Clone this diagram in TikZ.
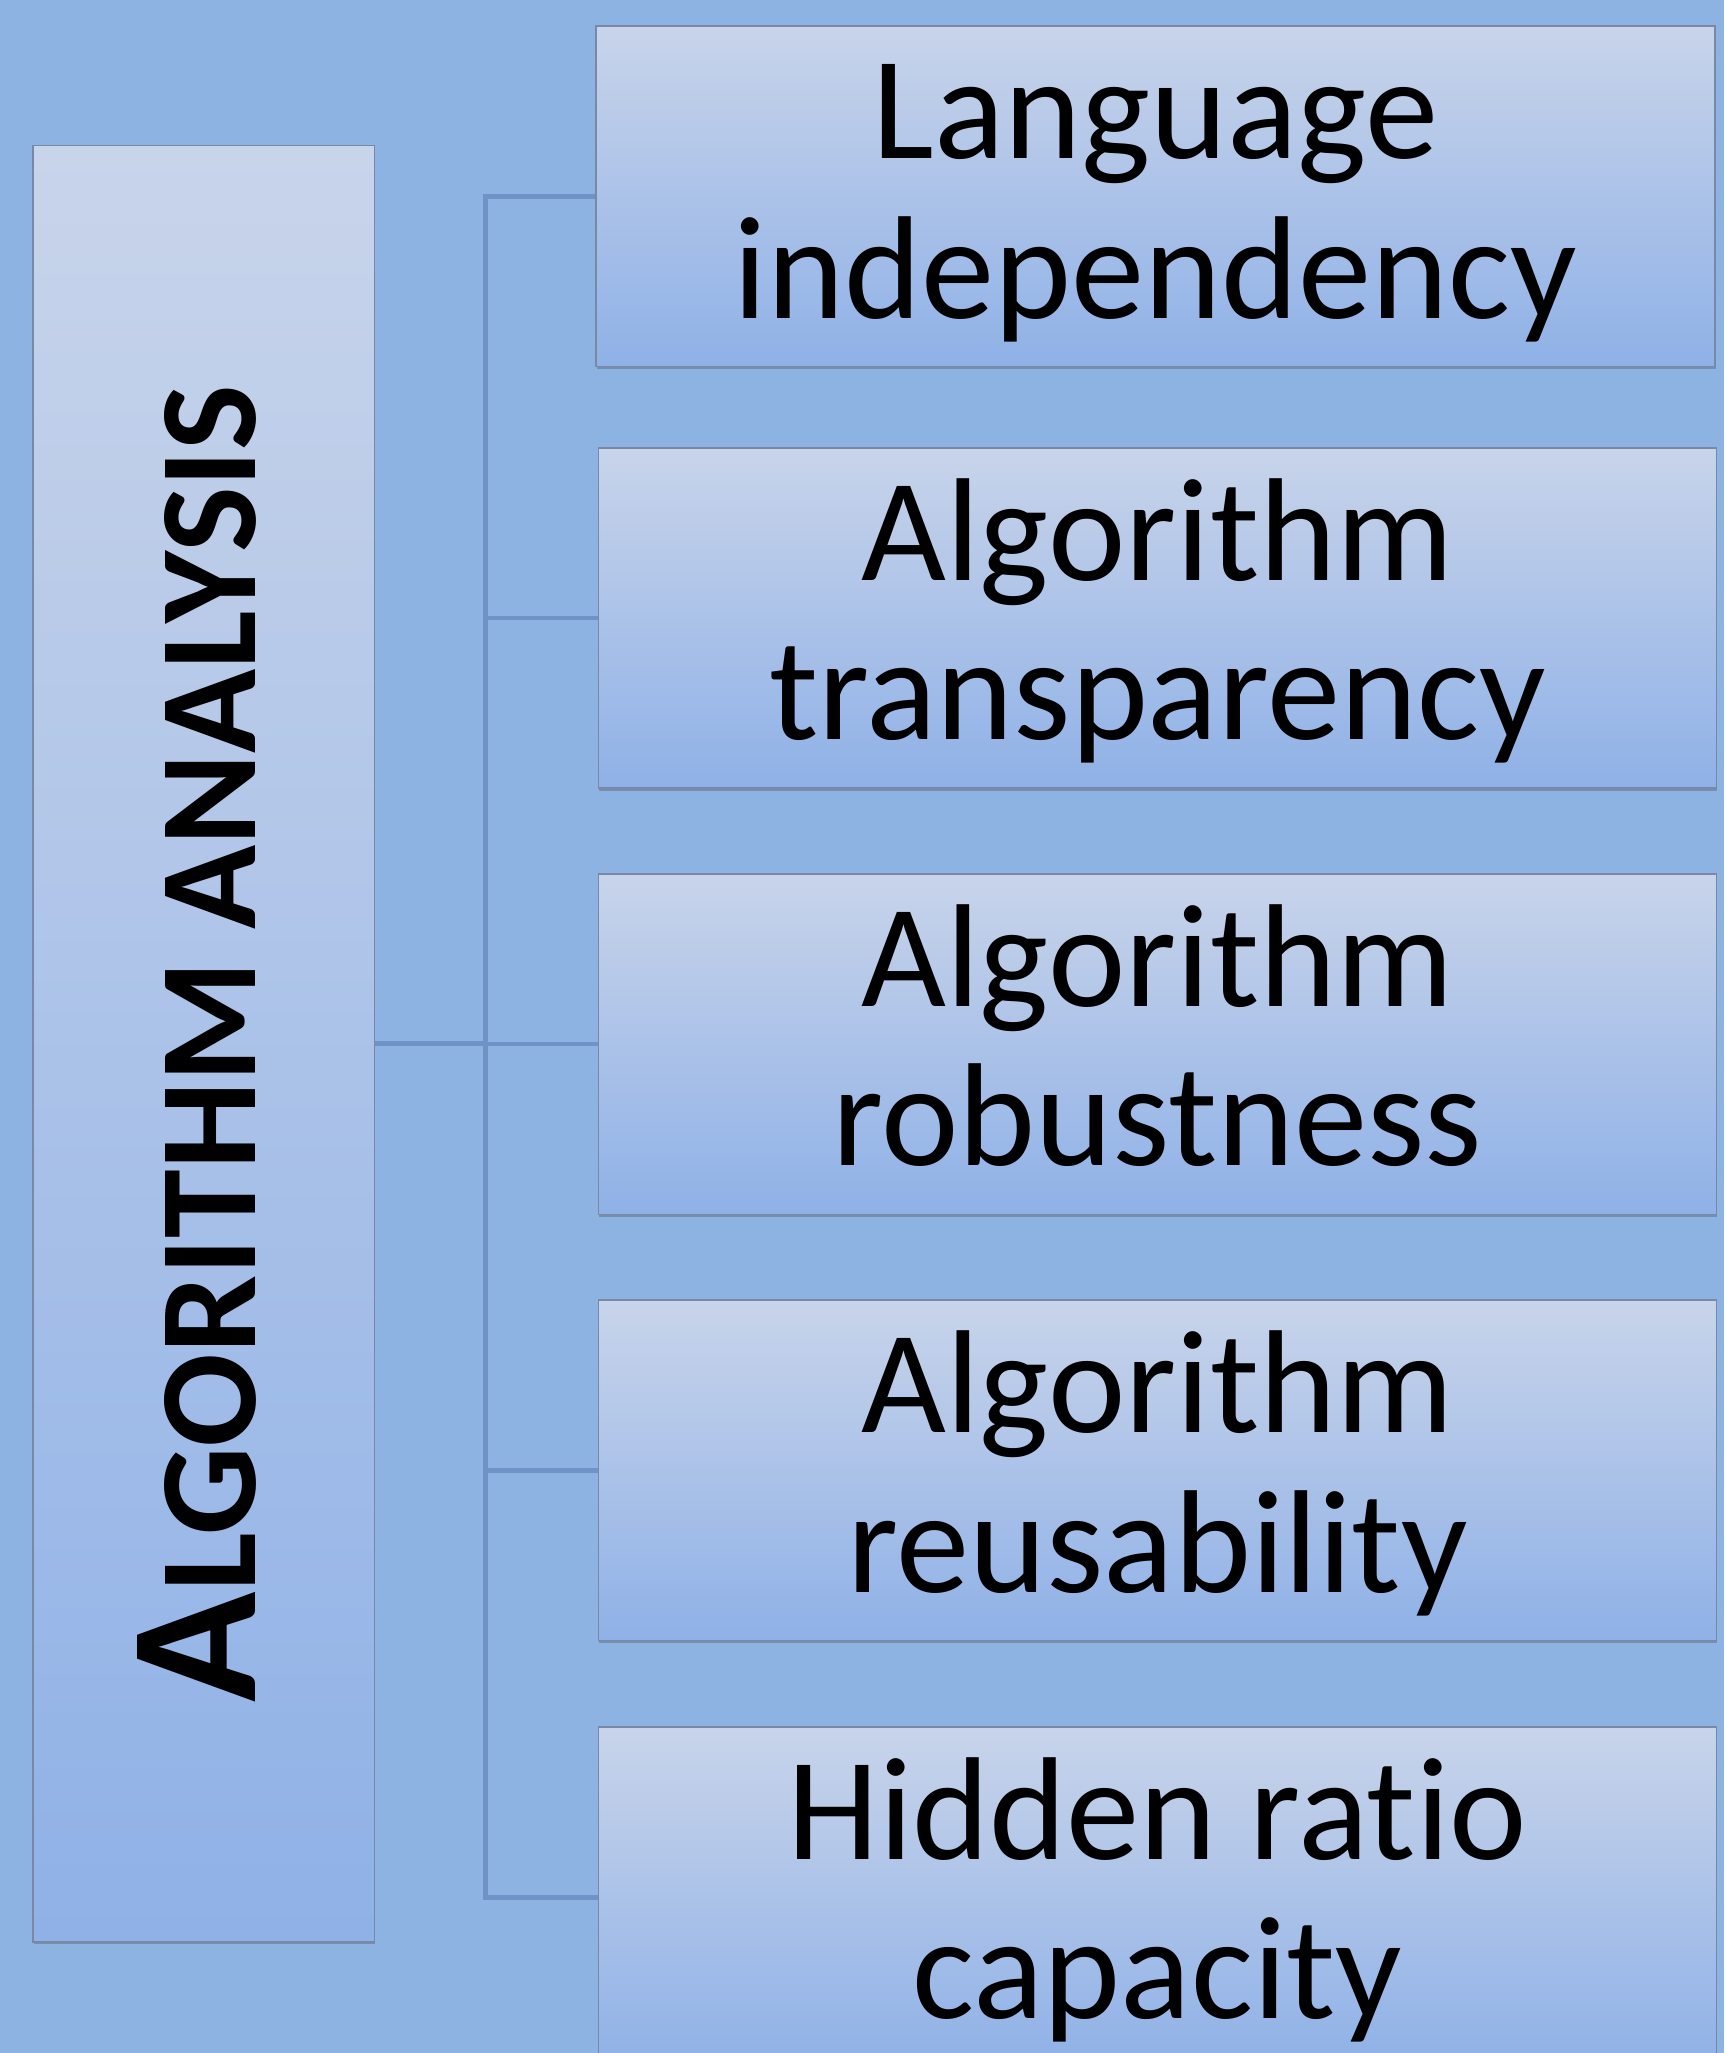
\documentclass[tikz,border=0pt]{standalone}
\usepackage{fontspec}
\setmainfont{Carlito}[Ligatures=NoCommon]
\usetikzlibrary{calc,backgrounds,shadows}
\definecolor{pagebg}{RGB}{141,179,226}
\definecolor{boxtop}{RGB}{200,212,234}
\definecolor{boxbot}{RGB}{143,177,231}
\definecolor{edge}{RGB}{120,136,165}
\definecolor{wire}{RGB}{111,147,198}
\begin{document}
\begin{tikzpicture}[x=1pt,y=-1pt,
  card/.style={draw=edge, line width=1.2pt, top color=boxtop, bottom color=boxbot,
    inner sep=0pt, minimum width=854pt, minimum height=260pt,
    drop shadow={shadow xshift=0.6pt, shadow yshift=-2pt, opacity=0.35, fill=black!70}},
  wirestyle/.style={draw=wire, line width=3.5pt},
  lbl/.style={inner sep=0pt, anchor=base, font=\fontsize{112}{122}\selectfont},
  title/.style={inner sep=0pt, anchor=base, rotate=90, font=\bfseries}]
  \useasboundingbox (0,0) rectangle (1317,1568);

  % left column box
  \node[card, minimum width=261pt, minimum height=1372pt] (main) at (155.5,797) {};

  % right column boxes
  \node[card, minimum width=855pt] (b1) at (882.5,150) {};
  \node[card] (b2) at (884,472) {};
  \node[card] (b3) at (884,797.5) {};
  \node[card] (b4) at (884,1123) {};
  \node[card] (b5) at (884,1449) {};

  % labels
  \node[title] (tt) at ($(main.center)+(39.5,0)$)
    {\fontsize{139}{139}\selectfont A\fontsize{106}{106}\selectfont LGORITHM ANALYSIS};
  \node[lbl] (t1) at ($(b1.center)+(0,-29)$) {\parbox[t]{840pt}{\centering Language\\independency}};
  \node[lbl] (t2) at ($(b2.center)+(0,-29)$) {\parbox[t]{840pt}{\centering Algorithm\\transparency}};
  \node[lbl] (t3) at ($(b3.center)+(0,-29)$) {\parbox[t]{840pt}{\centering Algorithm\\robustness}};
  \node[lbl] (t4) at ($(b4.center)+(0,-29)$) {\parbox[t]{840pt}{\centering Algorithm\\reusability}};
  \node[lbl] (t5) at ($(b5.center)+(0,-29)$) {\parbox[t]{840pt}{\centering Hidden ratio\\capacity}};

  % page and connectors behind the boxes
  \begin{scope}[on background layer]
    \fill[pagebg] (0,0) rectangle (1317,1568);
    \coordinate (trunk) at (371,0);
    \draw[wirestyle] (b1.west) -- (b1.west -| trunk) -- (b5.west -| trunk) -- (b5.west);
    \draw[wirestyle] (b2.west -| trunk) -- (b2.west);
    \draw[wirestyle] (b3.west -| trunk) -- (b3.west);
    \draw[wirestyle] (b4.west -| trunk) -- (b4.west);
    \draw[wirestyle] (main.east) -- (main.east -| trunk);
  \end{scope}
\end{tikzpicture}
\end{document}
